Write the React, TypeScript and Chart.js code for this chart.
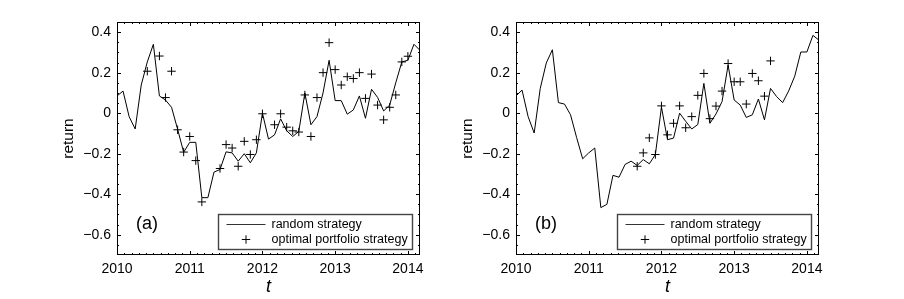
import React, { useEffect, useRef } from "react";
import { Chart, registerables } from "chart.js";

Chart.register(...registerables);

// ---- data ----
const months = [
  "2010-01", "2010-02", "2010-03", "2010-04", "2010-05", "2010-06", "2010-07", "2010-08", "2010-09", "2010-10", "2010-11", "2010-12",
  "2011-01", "2011-02", "2011-03", "2011-04", "2011-05", "2011-06", "2011-07", "2011-08", "2011-09", "2011-10", "2011-11", "2011-12",
  "2012-01", "2012-02", "2012-03", "2012-04", "2012-05", "2012-06", "2012-07", "2012-08", "2012-09", "2012-10", "2012-11", "2012-12",
  "2013-01", "2013-02", "2013-03", "2013-04", "2013-05", "2013-06", "2013-07", "2013-08", "2013-09", "2013-10", "2013-11", "2013-12",
  "2014-01", "2014-02", "2014-03",
];

const randomA = [
  0.085, 0.109, -0.017, -0.078, 0.139, 0.253, 0.34, 0.085, 0.065, 0.029, -0.079, -0.193,
  -0.144, -0.144, -0.417, -0.417, -0.291, -0.278, -0.191, -0.196, -0.237, -0.2, -0.245, -0.196,
  0.0, -0.128, -0.107, -0.028, -0.087, -0.115, -0.09, 0.1, -0.057, -0.017, 0.1, 0.261,
  0.062, 0.062, -0.005, 0.016, 0.085, -0.025, 0.118, 0.078, 0.011, 0.04, 0.15, 0.253,
  0.261, 0.34, 0.31,
];

const optimalA: (number | null)[] = [
  null, null, null, null, null, 0.207, null, 0.282, 0.077, 0.207, -0.082, -0.192,
  -0.115, -0.234, -0.438, null, null, -0.273, -0.155, -0.172, -0.262, -0.139, -0.204, -0.131,
  -0.003, null, -0.057, -0.003, -0.069, -0.087, -0.093, 0.09, -0.115, 0.077, 0.2, 0.348,
  0.215, 0.139, 0.18, 0.171, 0.2, 0.073, 0.193, 0.04, -0.033, 0.029, 0.09, 0.253,
  0.281, null, null,
];

const randomB = [
  0.085, 0.114, -0.017, -0.098, 0.122, 0.248, 0.313, 0.052, 0.045, -0.008, -0.12, -0.225,
  -0.196, -0.172, -0.466, -0.45, -0.307, -0.316, -0.253, -0.237, -0.258, -0.229, -0.25, -0.204,
  0.03, -0.131, -0.123, 0.0, -0.04, -0.078, -0.056, 0.147, -0.05, -0.004, 0.057, 0.237,
  0.065, 0.04, -0.021, -0.008, 0.07, -0.033, 0.122, 0.082, 0.052, 0.11, 0.183, 0.302,
  0.302, 0.384, 0.36,
];

const optimalB: (number | null)[] = [
  null, null, null, null, null, null, null, null, null, null, null, null,
  null, null, null, null, null, null, null, null, -0.262, -0.196, -0.122, -0.204,
  0.036, -0.107, -0.05, 0.036, -0.072, -0.017, 0.088, 0.196, -0.027, 0.035, 0.109, 0.245,
  0.155, 0.155, 0.045, 0.196, 0.16, 0.084, 0.258, null, null, null, null, null,
  null, null, null,
];

const xTickYears = [2010, 2011, 2012, 2013, 2014];
const yTickValues = [-0.6, -0.4, -0.2, 0, 0.2, 0.4];
const legendLabels = ["random strategy", "optimal portfolio strategy"];
const panelLabels = ["(a)", "(b)"];
const xTitle = "t";
const yTitle = "return";

const Y_MIN = -0.7;
const Y_MAX = 0.45;
const X_MINOR_STEP = 0.1;
const Y_MINOR_STEP = 0.05;

const FONT = '"Liberation Sans", Arial, Helvetica, sans-serif';
Chart.defaults.font.family = FONT;
Chart.defaults.color = "#000";

const monthX = months.map((m) => {
  const [yy, mm] = m.split("-").map(Number);
  return yy + (mm - 1) / 12;
});
const X_MIN = monthX[0];
const X_MAX = monthX[monthX.length - 1];

const toPoints = (vals: (number | null)[]) =>
  vals
    .map((v, i) => ({ x: monthX[i], y: v }))
    .filter((p) => p.y !== null) as { x: number; y: number }[];

const fmtY = (v: number) => {
  if (Math.abs(v) < 1e-9) return "0";
  return (v < 0 ? "\u2212" : "") + Math.abs(v).toFixed(1);
};

const framePlugin = {
  id: "frame",
  afterDatasetsDraw(chart: any, _args: any, opts: any) {
    const { ctx, chartArea: a, scales } = chart;
    const x = scales.x;
    const y = scales.y;
    ctx.save();
    ctx.strokeStyle = "#000";
    ctx.lineWidth = 1;
    ctx.strokeRect(a.left + 0.5, a.top + 0.5, a.right - a.left - 1, a.bottom - a.top - 1);

    const major = 4;
    const minor = 2;
    ctx.beginPath();
    const xm: number[] = [];
    for (let v = Math.ceil(X_MIN / X_MINOR_STEP) * X_MINOR_STEP; v <= X_MAX + 1e-9; v += X_MINOR_STEP) xm.push(v);
    xm.forEach((v) => {
      const isMajor = xTickYears.some((t) => Math.abs(t - v) < 1e-6);
      const len = isMajor ? major : minor;
      const px = Math.round(x.getPixelForValue(v)) + 0.5;
      ctx.moveTo(px, a.bottom);
      ctx.lineTo(px, a.bottom - len);
      ctx.moveTo(px, a.top);
      ctx.lineTo(px, a.top + len);
    });
    const ym: number[] = [];
    for (let v = Math.ceil(Y_MIN / Y_MINOR_STEP) * Y_MINOR_STEP; v <= Y_MAX + 1e-9; v += Y_MINOR_STEP) ym.push(v);
    ym.forEach((v) => {
      const isMajor = yTickValues.some((t) => Math.abs(t - v) < 1e-6);
      const len = isMajor ? major : minor;
      const py = Math.round(y.getPixelForValue(v)) + 0.5;
      ctx.moveTo(a.left, py);
      ctx.lineTo(a.left + len, py);
      ctx.moveTo(a.right, py);
      ctx.lineTo(a.right - len, py);
    });
    ctx.stroke();

    // legend
    const bx = Math.round(a.left + 101) + 0.5;
    const by = Math.round(a.bottom - 41) + 0.5;
    const bw = 194;
    const bh = 35;
    ctx.fillStyle = "#fff";
    ctx.fillRect(bx, by, bw, bh);
    ctx.strokeStyle = "#444";
    ctx.lineWidth = 1.4;
    ctx.strokeRect(bx, by, bw, bh);

    ctx.strokeStyle = "#333";
    ctx.lineWidth = 1;
    ctx.beginPath();
    ctx.moveTo(bx + 8, by + 10);
    ctx.lineTo(bx + 47, by + 10);
    ctx.stroke();
    ctx.strokeStyle = "#000";
    ctx.beginPath();
    const cx = bx + 27.5;
    const cy = by + 25;
    const r = 4.2;
    ctx.moveTo(cx - r, cy);
    ctx.lineTo(cx + r, cy);
    ctx.moveTo(cx, cy - r);
    ctx.lineTo(cx, cy + r);
    ctx.stroke();

    ctx.fillStyle = "#000";
    ctx.font = `12.5px ${FONT}`;
    ctx.textAlign = "left";
    ctx.textBaseline = "middle";
    ctx.fillText(legendLabels[0], bx + 53, by + 10);
    ctx.fillText(legendLabels[1], bx + 53, by + 25);

    // panel label
    ctx.font = `18px ${FONT}`;
    ctx.textAlign = "center";
    ctx.fillText(opts.label, a.left + 30, a.bottom - 30.5);
    ctx.restore();
  },
};

type PanelProps = {
  randomVals: number[];
  optimalVals: (number | null)[];
  label: string;
  left: number;
  width: number;
  areaLeft: number;
  areaRight: number;
  yTitleX: number;
};

const HEIGHT = 299;
const AREA_TOP = 22;
const AREA_BOTTOM = 255;

function Panel({ randomVals, optimalVals, label, left, width, areaLeft, areaRight, yTitleX }: PanelProps) {
  const ref = useRef<HTMLCanvasElement | null>(null);
  useEffect(() => {
    if (!ref.current) return;
    const chart = new Chart(ref.current, {
      type: "scatter",
      data: {
        datasets: [
          {
            label: legendLabels[0],
            data: toPoints(randomVals),
            showLine: true,
            borderColor: "#000",
            backgroundColor: "#000",
            borderWidth: 1,
            pointRadius: 0,
            tension: 0,
          },
          {
            label: legendLabels[1],
            data: toPoints(optimalVals),
            showLine: false,
            pointStyle: "cross",
            pointRadius: 4.2,
            pointBorderWidth: 1,
            borderColor: "#000",
            backgroundColor: "#000",
          },
        ],
      },
      options: {
        animation: false,
        responsive: false,
        devicePixelRatio: 1,
        events: [],
        layout: { padding: { left: 0, right: width - areaRight, top: AREA_TOP, bottom: 0 } },
        plugins: {
          legend: { display: false },
          tooltip: { enabled: false },
          frame: { label },
        } as any,
        scales: {
          x: {
            type: "linear",
            min: X_MIN,
            max: X_MAX,
            grid: { display: false, drawTicks: false },
            border: { display: false },
            afterBuildTicks: (s: any) => {
              s.ticks = xTickYears.map((v) => ({ value: v }));
            },
            afterFit: (s: any) => {
              s.height = HEIGHT - AREA_BOTTOM;
            },
            ticks: {
              padding: 6,
              autoSkip: false,
              maxRotation: 0,
              color: "#000",
              font: { size: 14 },
              callback: (v: any) => String(v),
            },
            title: {
              display: true,
              text: xTitle,
              color: "#000",
              font: { size: 18, style: "italic" },
              padding: { top: 0, bottom: 1 },
            },
          },
          y: {
            type: "linear",
            min: Y_MIN,
            max: Y_MAX,
            grid: { display: false, drawTicks: false },
            border: { display: false },
            afterBuildTicks: (s: any) => {
              s.ticks = yTickValues.map((v) => ({ value: v }));
            },
            afterFit: (s: any) => {
              s.width = areaLeft;
            },
            ticks: {
              padding: 6,
              color: "#000",
              font: { size: 14 },
              callback: (v: any) => fmtY(Number(v)),
            },
            title: {
              display: true,
              text: yTitle,
              color: "#000",
              font: { size: 15.5 },
              padding: { top: yTitleX - 9, bottom: 0 },
            },
          },
        },
      } as any,
      plugins: [framePlugin as any],
    });
    return () => chart.destroy();
  }, []);
  return (
    <canvas
      ref={ref}
      width={width}
      height={HEIGHT}
      style={{ position: "absolute", left, top: 0, width, height: HEIGHT }}
    />
  );
}

export default function App() {
  return (
    <div style={{ position: "absolute", left: 0, top: 0, width: 904, height: HEIGHT, background: "#fff", overflow: "hidden" }}>
      <Panel
        randomVals={randomA}
        optimalVals={optimalA}
        label={panelLabels[0]}
        left={0}
        width={450}
        areaLeft={117}
        areaRight={420}
        yTitleX={68}
      />
      <Panel
        randomVals={randomB}
        optimalVals={optimalB}
        label={panelLabels[1]}
        left={450}
        width={454}
        areaLeft={66}
        areaRight={369}
        yTitleX={17}
      />
    </div>
  );
}
